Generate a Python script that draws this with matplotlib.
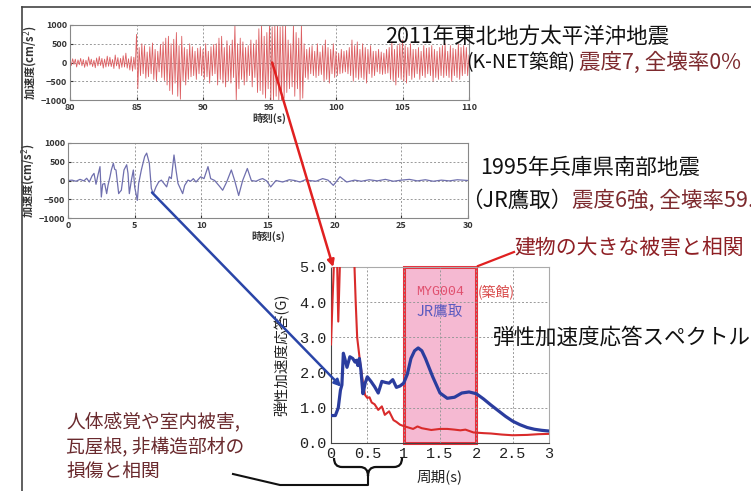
import numpy as np
import matplotlib
matplotlib.use("Agg")
import matplotlib.pyplot as plt
from matplotlib.patches import ConnectionPatch, Rectangle, PathPatch
from matplotlib.path import Path
from matplotlib.lines import Line2D

plt.rcParams['font.family'] = ['Noto Sans CJK JP', 'DejaVu Sans']

# 2011 K-NET Tsukidate record, 80-110 s, one row per second (0.1 s steps)
acc_2011_rows = [
    [60, -80, 100, -50, 90, -120, 70, -60, 110, -90],
    [80, -130, 60, -100, 150, -70, 90, -110, 60, -140],
    [120, -90, 160, -80, 110, -150, 90, -120, 170, -100],
    [140, -110, 80, -160, 200, -90, 130, -170, 110, -130],
    [180, -120, 250, -150, 100, -200, 160, -230, 140, -180],
    [750, -700, 400, -350, 500, -300, 450, -420, 280, -380],
    [420, -300, 520, -450, 350, -500, 300, -250, 480, -400],
    [550, -480, 650, -600, 700, -750, 500, -850, 620, -550],
    [800, -900, 450, -980, 700, -500, 400, -600, 350, -450],
    [500, -380, 420, -350, 300, -450, 380, -300, 420, -350],
    [350, -450, 500, -380, 300, -550, 420, -350, 480, -300],
    [500, -600, 650, -450, 700, -550, 400, -650, 580, -500],
    [450, -550, 600, -400, 1000, -1000, 500, -700, 650, -450],
    [550, -600, 400, -500, 450, -350, 600, -650, 500, -400],
    [600, -800, 900, -750, 1000, -850, 700, -950, 800, -700],
    [1000, -1000, 950, -1000, 1000, -900, 1000, -1000, 950, -1000],
    [1000, -950, 1000, -800, 600, -700, 500, -650, 1000, -900],
    [800, -700, 650, -1000, 1000, -950, 500, -400, 350, -450],
    [400, -300, 450, -350, 300, -400, 500, -350, 280, -320],
    [450, -500, 600, -450, 400, -550, 350, -300, 500, -400],
    [300, -350, 250, -300, 350, -280, 300, -250, 320, -300],
    [400, -350, 600, -500, 450, -400, 550, -450, 350, -400],
    [500, -450, 400, -550, 350, -300, 450, -400, 300, -350],
    [300, -250, 350, -300, 280, -320, 250, -300, 350, -280],
    [400, -450, 550, -500, 350, -600, 450, -400, 500, -450],
    [600, -500, 450, -550, 400, -350, 500, -450, 350, -400],
    [350, -300, 400, -450, 300, -350, 450, -400, 380, -300],
    [400, -350, 450, -500, 350, -400, 300, -450, 400, -350],
    [450, -400, 500, -350, 300, -400, 450, -500, 380, -350],
    [350, -400, 500, -450, 400, -350, 450, -300, 400, -350],
    [200],
]
acc_2011 = [v for row in acc_2011_rows for v in row]
t_2011 = 80 + 0.1 * np.arange(len(acc_2011))

# 1995 JR Takatori record, 0-30 s
t_1995 = [0, 0.3, 0.6, 0.9, 1.2, 1.4, 1.6, 1.8, 1.95, 2.1, 2.25, 2.4, 2.5, 2.6,
          2.75, 2.9, 3.0, 3.15, 3.25, 3.4, 3.5, 3.6, 3.8, 3.9, 4.0, 4.2, 4.4,
          4.5, 4.6, 4.75, 4.9, 5.0, 5.2, 5.3, 5.5, 5.75, 5.9, 6.1, 6.25, 6.4,
          6.6, 6.8, 7.0, 7.2, 7.4, 7.6, 7.75, 7.95, 8.1, 8.25, 8.6, 8.75, 9.0,
          9.2, 9.4, 9.6, 9.95, 10.2, 10.5, 10.7, 11.0, 11.4, 11.6, 11.9, 12.25,
          12.5, 12.8, 13.1, 13.45, 13.75, 14.1, 14.4, 14.6, 14.9, 15.2, 15.6,
          16.1, 16.6, 17.0, 17.4, 17.8, 18.1, 18.6, 19.1, 19.5, 19.9, 20.4,
          20.9, 21.5, 22, 22.6, 23.2, 23.8, 24.4, 25, 25.6, 26.2, 26.8, 27.4,
          28, 28.6, 29.2, 30]
acc_1995 = [0, 10, -20, 30, -10, 60, -40, 120, 190, -100, 150, 370, -440, -100,
            -80, -350, -130, 100, 280, 460, 300, 280, -350, -300, -260, 280, 420,
            190, -350, 0, 280, -170, -530, -80, 280, 640, 730, 460, -210, -350,
            -170, -40, 10, -80, -170, 100, 50, 680, 280, -80, -350, -130, 10,
            -20, 50, -40, 100, 50, 370, 50, 0, -170, -260, -40, 280,
            0, -400, 0, 320, 0, -20, 30, 50, -10, -170, 0,
            -40, 20, 0, -40, 20, 0, -20, 50, 10, -130, 100,
            -40, 10, -20, 20, -10, 30, -20, 10, 30, -10, 20, -20,
            10, -10, 20, 0]

# elastic acceleration response spectra (G)
period_jr = [0, 0.06, 0.1, 0.13, 0.15, 0.17, 0.19, 0.22, 0.26, 0.3, 0.33, 0.35,
             0.37, 0.39, 0.41, 0.44, 0.47, 0.5, 0.55, 0.6, 0.65, 0.7, 0.75, 0.8,
             0.85, 0.9, 0.95, 1.0, 1.05, 1.1, 1.15, 1.2, 1.25, 1.3, 1.4, 1.5,
             1.6, 1.7, 1.8, 1.9, 2.0, 2.1, 2.2, 2.3, 2.4, 2.5, 2.6, 2.7, 2.8,
             2.9, 3.0]
sa_jr = [0.78, 0.78, 1.0, 1.5, 1.65, 2.55, 2.4, 2.15, 2.45, 2.4, 2.3, 2.35,
         2.2, 2.4, 2.1, 1.4, 1.7, 1.88, 1.75, 1.6, 1.42, 1.75, 1.72, 1.7,
         1.8, 1.58, 1.62, 1.7, 1.95, 2.4, 2.62, 2.7, 2.62, 2.4, 1.88, 1.42,
         1.27, 1.3, 1.42, 1.45, 1.4, 1.25, 1.08, 0.92, 0.76, 0.62, 0.52, 0.44,
         0.39, 0.36, 0.34]
period_myg = [0, 0.02, 0.05, 0.08, 0.1, 0.13, 0.2, 0.3, 0.32, 0.34, 0.36, 0.4,
              0.44, 0.47, 0.5, 0.53, 0.56, 0.6, 0.65, 0.7, 0.74, 0.8, 0.86, 0.9,
              0.95, 1.0, 1.05, 1.13, 1.19, 1.25, 1.38, 1.5, 1.6, 1.7, 1.78,
              1.85, 1.96, 2.1, 2.2, 2.35, 2.5, 2.7, 2.85, 3.0]
sa_myg = [2.8, 4.0, 5.6, 5.6, 3.45, 5.6, 7.0, 6.0, 5.2, 4.0, 3.0, 2.3,
          1.7, 1.36, 1.28, 1.3, 1.15, 1.1, 0.94, 1.04, 0.8, 0.9, 0.65, 0.6,
          0.52, 0.48, 0.45, 0.4, 0.47, 0.42, 0.37, 0.4, 0.4, 0.38, 0.36,
          0.38, 0.3, 0.28, 0.27, 0.24, 0.22, 0.23, 0.25, 0.26]

W, H = 751, 491
fig = plt.figure(figsize=(W / 100, H / 100), dpi=100)
renderer = fig.canvas.get_renderer()


def box(l, t, r, b):
    return [l / W, 1 - b / H, (r - l) / W, (b - t) / H]


def fp(x, y):
    return x / W, 1 - y / H


def two_part(x, y, first, second, fs1, fs2, color2, gap=3):
    # black lead-in text followed by a coloured tail on the same line
    t = fig.text(*fp(x, y), first, fontsize=fs1, va='center', color='#111111')
    x1 = t.get_window_extent(renderer).x1
    fig.text(*fp(x1 + gap, y), second, fontsize=fs2, va='center', color=color2)


grid_kw = dict(color='#999999', linestyle=(0, (2, 2)), linewidth=0.7)


def style_time_axes(ax, xlim, xticks):
    ax.set_xlim(*xlim)
    ax.set_ylim(-1000, 1000)
    ax.set_xticks(xticks)
    ax.set_yticks([-1000, -500, 0, 500, 1000])
    ax.grid(True, **grid_kw)
    ax.tick_params(labelsize=6.5, length=2, direction='in', colors='#333333', pad=2)
    for lab in ax.get_xticklabels() + ax.get_yticklabels():
        lab.set_fontweight('bold')
    for s in ax.spines.values():
        s.set_color('#888888')
        s.set_linewidth(0.8)
    ax.set_xlabel('時刻(s)', fontsize=7.5, fontweight='bold', labelpad=1, color='#333333')
    ax.set_ylabel('加速度(cm/s$^2$)', fontsize=8, fontweight='bold', labelpad=1, color='#333333')


# 2011 record
ax1 = fig.add_axes(box(70, 25, 469, 100))
ax1.plot(t_2011, acc_2011, color='#dc5f62', lw=0.6)
style_time_axes(ax1, (80, 110), [80, 85, 90, 95, 100, 105, 110])

# 1995 record
ax2 = fig.add_axes(box(68, 143, 468, 218))
ax2.plot(t_1995, acc_1995, color='#6f6fae', lw=0.9)
style_time_axes(ax2, (0, 30), [0, 5, 10, 15, 20, 25, 30])

# response spectra
ax3 = fig.add_axes(box(331, 267, 549, 443))
ax3.add_patch(Rectangle((1, 0), 1, 5, facecolor='#f5b9d2', edgecolor='#e8303c',
                        lw=2.2, zorder=1, clip_on=False))
ax3.plot(period_myg, sa_myg, color='#d92b2b', lw=1.5, zorder=3)
ax3.plot(period_jr, sa_jr, color='#2b3d9e', lw=2.3, zorder=4)
ax3.set_xlim(0, 3)
ax3.set_ylim(0, 5)
ax3.set_xticks([0, 0.5, 1, 1.5, 2, 2.5, 3])
ax3.set_xticklabels(['0', '0.5', '1', '1.5', '2', '2.5', '3'])
ax3.set_yticks([0, 1, 2, 3, 4, 5])
ax3.set_yticklabels(['0.0', '1.0', '2.0', '3.0', '4.0', '5.0'])
ax3.grid(True, **grid_kw)
ax3.tick_params(length=0, pad=3, colors='#222222')
for lab in ax3.get_xticklabels() + ax3.get_yticklabels():
    lab.set_family('Liberation Mono')
    lab.set_fontsize(11)
for side in ['left', 'bottom']:
    ax3.spines[side].set_color('#444444')
for side in ['top', 'right']:
    ax3.spines[side].set_color('#aaaaaa')
ax3.set_xlabel('周期(s)', fontsize=10.5, labelpad=6, color='#222222')
ax3.set_ylabel('弾性加速度応答(G)', fontsize=10.5, labelpad=7, color='#222222')
ax3.text(1.5, 4.29, 'MYG004', color='#e0506e', fontsize=9.5, family='Liberation Mono',
         ha='center', va='center', zorder=5)
ax3.text(2.28, 4.29, '(築館)', color='#d84848', fontsize=10, ha='center', va='center', zorder=5)
ax3.text(1.5, 3.72, 'JR鷹取', color='#5a5abf', fontsize=10.5, ha='center', va='center', zorder=5)

# arrows from the records to the spectrum
arr1 = ConnectionPatch(xyA=(95.2, 0), coordsA=ax1.transData, xyB=(0.03, 5.0),
                       coordsB=ax3.transData, arrowstyle='-|>', color='#e02020',
                       lw=1.8, mutation_scale=10, zorder=10)
fig.add_artist(arr1)
arr2 = ConnectionPatch(xyA=(6.3, -320), coordsA=ax2.transData, xyB=(0.14, 1.6),
                       coordsB=ax3.transData, arrowstyle='-|>', color='#2a45a8',
                       lw=1.8, mutation_scale=10, zorder=10)
fig.add_artist(arr2)

# outer frame
fig.add_artist(Line2D([22 / W, 1], [1 - 7 / H] * 2, transform=fig.transFigure,
                      color='#444444', lw=1.2))
fig.add_artist(Line2D([22 / W] * 2, [1 - 7 / H, 0], transform=fig.transFigure,
                      color='#444444', lw=1.2))

# texts
dark_red = '#7d2a2e'
fig.text(*fp(385, 37), '2011年東北地方太平洋沖地震', fontsize=15.5, va='center', color='#111111')
two_part(466, 63, '(K-NET築館)', '震度7, 全壊率0%', 14, 15.5, dark_red, gap=4)
fig.text(*fp(480, 168), '1995年兵庫県南部地震', fontsize=15.5, va='center', color='#111111')
two_part(461, 201, '（JR鷹取）', '震度6強, 全壊率59.4%', 15.5, 15.5, dark_red, gap=0)
fig.text(*fp(514, 248), '建物の大きな被害と相関', fontsize=15, va='center', color='#8e1f24')
fig.text(*fp(492, 338), '弾性加速度応答スペクトル', fontsize=15.5, va='center', color='#111111')
fig.text(*fp(66, 422), '人体感覚や室内被害,', fontsize=13.5, va='center', color='#6a2a2e')
fig.text(*fp(66, 447), '瓦屋根, 非構造部材の', fontsize=13.5, va='center', color='#6a2a2e')
fig.text(*fp(66, 471), '損傷と相関', fontsize=13.5, va='center', color='#6a2a2e')

# leader from the big-damage label to the shaded band
fig.add_artist(Line2D([514 / W, 478 / W], [1 - 252 / H, 1 - 266 / H],
                      transform=fig.transFigure, color='#e02020', lw=1.6))

# brace under 0-1 s and its leader line
brace_px = [(334, 458), (334, 467), (342, 467), (360, 467), (368, 467), (368, 476),
            (368, 467), (376, 467), (394, 467), (402, 467), (402, 458)]
codes = [Path.MOVETO, Path.CURVE3, Path.CURVE3, Path.LINETO, Path.CURVE3, Path.CURVE3,
         Path.CURVE3, Path.CURVE3, Path.LINETO, Path.CURVE3, Path.CURVE3]
brace = Path([fp(x, y) for x, y in brace_px], codes)
fig.add_artist(PathPatch(brace, transform=fig.transFigure, fill=False, lw=1.6,
                         edgecolor='#111111'))
leader_px = [(233, 474), (280, 485), (368, 485), (368, 476)]
fig.add_artist(Line2D([p[0] / W for p in leader_px], [1 - p[1] / H for p in leader_px],
                      transform=fig.transFigure, color='#111111', lw=1.5))

fig.savefig('out.png', dpi=100)
